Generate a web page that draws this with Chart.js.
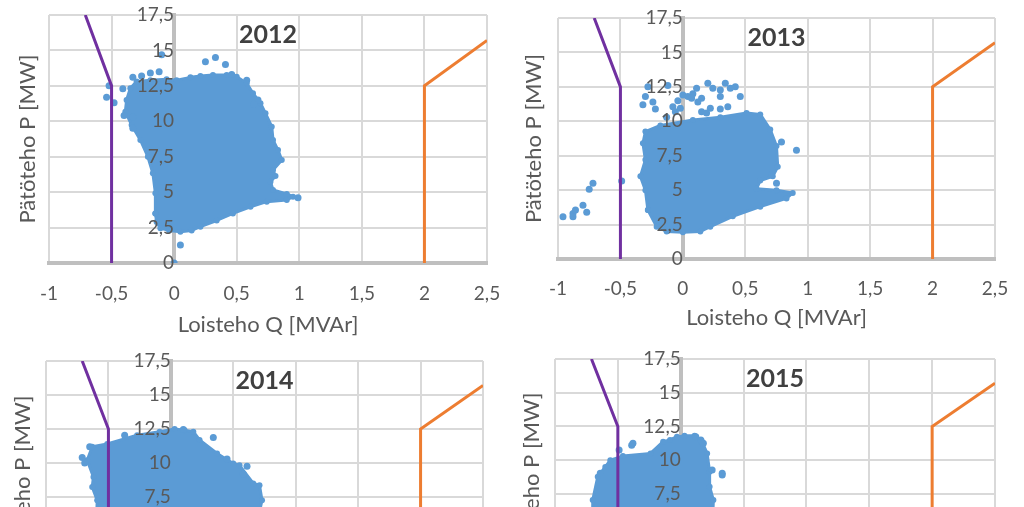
<!DOCTYPE html>
<html>
<head>
<meta charset="utf-8">
<script src="https://cdn.jsdelivr.net/npm/chart.js@4.4.1/dist/chart.umd.min.js"></script>
<style>
  html, body { margin: 0; padding: 0; background: #fff; overflow: hidden; width: 1024px; height: 507px; }
  .C_chart { position: absolute; width: 512px; height: 346px; }
</style>
</head>
<body>
<div class="C_chart" style="left:0;top:0"><canvas id="c0" width="512" height="346"></canvas></div>
<div class="C_chart" style="left:512px;top:0"><canvas id="c1" width="512" height="346"></canvas></div>
<div class="C_chart" style="left:0;top:346px"><canvas id="c2" width="512" height="346"></canvas></div>
<div class="C_chart" style="left:512px;top:346px"><canvas id="c3" width="512" height="346"></canvas></div>
<script>
// data: Q [MVAr], P [MW]
const years = ['2012', '2013', '2014', '2015']
const qTicks = [-1, -0.5, 0, 0.5, 1, 1.5, 2, 2.5]
const pTicks = [0, 2.5, 5, 7.5, 10, 12.5, 15, 17.5]

const limitLeft = [[-0.5, 0], [-0.5, 12.5], [-0.71, 17.5]]
const limitRight = [[2, 0], [2, 12.5], [2.5, 15.7]]

// outline of the dense point cloud (clockwise)
const cloud2012 = [[-0.15,3.5],[-0.14,2.9],[-0.11,2.45],[-0.04,2.3],[0.05,2.2],[0.14,2.3],[0.21,2.56],[0.34,3.0],[0.47,3.5],[0.61,3.97],[0.74,4.33],[0.90,4.45],[0.95,4.68],[0.90,4.87],[0.79,5.15],[0.77,5.74],[0.81,6.14],[0.79,6.56],[0.86,7.27],[0.83,7.97],[0.79,8.68],[0.78,9.62],[0.73,10.56],[0.69,11.27],[0.63,11.98],[0.58,12.68],[0.50,13.15],[0.42,13.27],[0.31,13.27],[0.21,13.2],[0.13,13.1],[0.02,12.9],[-0.06,12.96],[-0.19,12.9],[-0.30,12.8],[-0.35,12.33],[-0.38,11.5],[-0.39,10.68],[-0.34,9.74],[-0.27,8.68],[-0.21,7.5],[-0.17,6.33],[-0.15,4.92]]
const single2012 = [[-0.10,14.7],[0.25,14.2],[0.33,14.5],[0.41,14.0],[0.58,12.9],[0.05,1.27],[0,0],[-0.52,12.5],[-0.54,11.7],[-0.48,11.3],[-0.41,12.3],[-0.33,13.1],[-0.26,13.2],[-0.19,13.4],[-0.12,13.5],[-0.40,10.4],[-0.33,9.5],[-0.33,10.3],[0.67,11.5],[0.64,11.2],[0.99,4.6],[0.46,13.3]]

const cloud2013 = [[-0.28,3.56],[-0.21,2.35],[-0.13,2.0],[0.0,1.95],[0.14,2.0],[0.22,2.35],[0.40,3.1],[0.62,3.8],[0.83,4.4],[0.88,4.8],[0.75,5.0],[0.59,5.1],[0.62,5.7],[0.72,6.0],[0.76,6.7],[0.75,8.2],[0.70,9.4],[0.62,10.5],[0.51,10.6],[0.30,10.3],[0.08,10.1],[-0.18,9.7],[-0.30,9.25],[-0.32,8.4],[-0.30,7.2],[-0.34,6.0],[-0.30,5.0]]
const single2013 = [[-0.28,12.5],[-0.30,11.8],[-0.32,11.2],[-0.24,11.4],[-0.22,10.9],[-0.12,12.6],[-0.13,10.3],[-0.08,11.06],[-0.04,11.5],[0.0,11.9],[0.04,11.8],[0.08,12.0],[0.11,12.4],[0.15,11.67],[0.20,12.76],[0.24,12.4],[0.30,12.27],[0.34,12.76],[0.38,12.4],[0.42,12.5],[0.30,11.8],[0.36,11.06],[0.46,11.8],[0.30,10.9],[0.15,10.7],[0.07,11.67],[0.12,11.4],[-0.02,10.94],[0.22,10.94],[-0.06,10.7],[0.19,10.6],[0.79,8.5],[0.91,7.9],[0.71,6.1],[0.75,5.5],[-0.96,3.07],[-0.88,3.3],[-0.88,3.07],[-0.86,3.56],[-0.80,3.9],[-0.77,3.4],[-0.75,5.06],[-0.72,5.5],[-0.49,5.66]]

const cloud2014 = [[-0.6,4.5],[-0.59,7.26],[-0.63,8.24],[-0.62,8.97],[-0.67,10.2],[-0.63,11.2],[-0.51,11.4],[-0.27,12.04],[-0.09,12.3],[0.03,12.5],[0.11,12.4],[0.18,12.3],[0.23,11.7],[0.37,10.7],[0.50,9.96],[0.55,9.83],[0.66,8.5],[0.71,8.36],[0.73,7.26],[0.7,6.0],[0.45,4.0],[0.1,2.8],[-0.3,2.9]]
const single2014 = [[0.10,12.46],[0.34,11.87],[-0.37,12.04],[-0.65,11.2],[0.61,9.76],[-0.71,10.4],[-0.69,10.0],[0.58,9.2],[0.45,10.3]]

const cloud2015 = [[-0.7,5.0],[-0.70,7.04],[-0.66,8.77],[-0.60,9.5],[-0.56,10.0],[-0.46,10.3],[-0.24,10.5],[-0.14,11.37],[-0.085,11.5],[-0.03,11.74],[0.03,11.8],[0.11,11.8],[0.17,11.36],[0.21,10.5],[0.23,9.14],[0.23,8.03],[0.26,7.04],[0.25,5.0],[0.0,3.0],[-0.4,3.2]]
const single2015 = [[0.12,11.74],[0.16,11.5],[0.33,8.9],[0.33,9.02],[-0.64,9.02],[-0.39,11.1],[-0.49,10.75],[-0.38,11.25],[0.18,11.25],[0.25,9.27]]

const clouds = [cloud2012, cloud2013, cloud2014, cloud2015]
const singles = [single2012, single2013, single2014, single2015]

// plot frame of each picture inside its 512x346 canvas
const frames = [
    {L: 49, R: 487, T: 15, B: 263, yTitleX: 28, tickOff: 30, titleOff: 62},
    {L: 46, R: 483, T: 18, B: 259, yTitleX: 22, tickOff: 29, titleOff: 59},
    {L: 46, R: 483, T: 15, B: 253, yTitleX: 23, tickOff: 30, titleOff: 61},
    {L: 43, R: 483, T: 13, B: 249, yTitleX: 20, tickOff: 30, titleOff: 61},
]

const BLUE = '#5b9bd5'
const GRAY = '#595959'
Chart.defaults.font.family = 'Lato'
Chart.defaults.color = GRAY

const toPts = arr => arr.map(([x, y]) => ({x, y}))
const comma = v => String(v).replace('.', ',')

const yearTitle = {
    id: 'yearTitle',
    afterDraw(chart, args, opts) {
        const {ctx, chartArea} = chart
        ctx.save()
        ctx.font = 'bold 25px Lato'
        ctx.fillStyle = '#404040'
        ctx.textAlign = 'center'
        ctx.textBaseline = 'middle'
        ctx.fillText(opts.text, (chartArea.left + chartArea.right) / 2, chartArea.top + 20)
        ctx.restore()
    }
}

// no extra room for the first / last tick label
const noLabelPadding = s => { s.paddingTop = 0; s.paddingBottom = 0; s.paddingLeft = 0; s.paddingRight = 0 }

const creatChart = (i) => {
    const f = frames[i]
    const cloud = clouds[i]
    new Chart(document.getElementById('c' + i), {
        type: 'scatter',
        data: {
            datasets: [
                {data: toPts(limitLeft), showLine: true, borderColor: '#7030a0', borderWidth: 3, pointRadius: 0, order: 0},
                {data: toPts(limitRight), showLine: true, borderColor: '#ed7d31', borderWidth: 3, pointRadius: 0, order: 0},
                {data: toPts(singles[i]), backgroundColor: BLUE, borderWidth: 0, pointRadius: 3.5, order: 1},
                {
                    data: toPts(cloud.concat([cloud[0]])),
                    showLine: true, fill: 'shape',
                    backgroundColor: BLUE, borderColor: BLUE, borderWidth: 3, borderJoinStyle: 'round',
                    pointRadius: 3, pointBackgroundColor: BLUE, pointBorderWidth: 0,
                    order: 2
                },
            ]
        },
        plugins: [yearTitle],
        options: {
            responsive: false,
            animation: false,
            events: [],
            layout: {padding: {left: 0, top: f.T, right: 512 - f.R, bottom: 346 - f.B - (f.titleOff + 13)}},
            plugins: {
                legend: {display: false},
                tooltip: {enabled: false},
                yearTitle: {text: years[i]},
            },
            scales: {
                x: {
                    type: 'linear', position: 'bottom', min: -1, max: 2.5,
                    afterBuildTicks: s => { s.ticks = qTicks.map(v => ({value: v})) },
                    afterFit: s => { s.height = f.titleOff + 13; noLabelPadding(s) },
                    grid: {color: '#d9d9d9', lineWidth: 2, drawTicks: false},
                    border: {color: '#bfbfbf', width: 4},
                    ticks: {callback: comma, padding: f.tickOff - 11, maxRotation: 0, autoSkip: false, font: {size: 19}, color: GRAY},
                    title: {display: true, text: 'Loisteho Q [MVAr]', font: {size: 22}, color: GRAY, padding: 0},
                },
                y: {
                    type: 'linear', position: {x: 0}, min: 0, max: 17.5,
                    afterBuildTicks: s => { s.ticks = pTicks.map(v => ({value: v})) },
                    afterFit: noLabelPadding,
                    grid: {color: '#d9d9d9', lineWidth: 2, drawTicks: false},
                    border: {color: '#bfbfbf', width: 4},
                    ticks: {callback: comma, padding: 19, font: {size: 19}, color: GRAY, z: 1},
                },
                yt: {
                    type: 'linear', position: 'left', axis: 'y', min: 0, max: 17.5,
                    afterFit: s => { s.width = f.L; noLabelPadding(s) },
                    grid: {display: false}, border: {display: false},
                    ticks: {display: false},
                    title: {display: true, text: 'Pätöteho P [MW]', font: {size: 22}, color: GRAY, padding: {top: f.yTitleX - 13, bottom: 0}},
                },
            }
        }
    })
}

years.forEach((y, i) => creatChart(i))
</script>
</body>
</html>
